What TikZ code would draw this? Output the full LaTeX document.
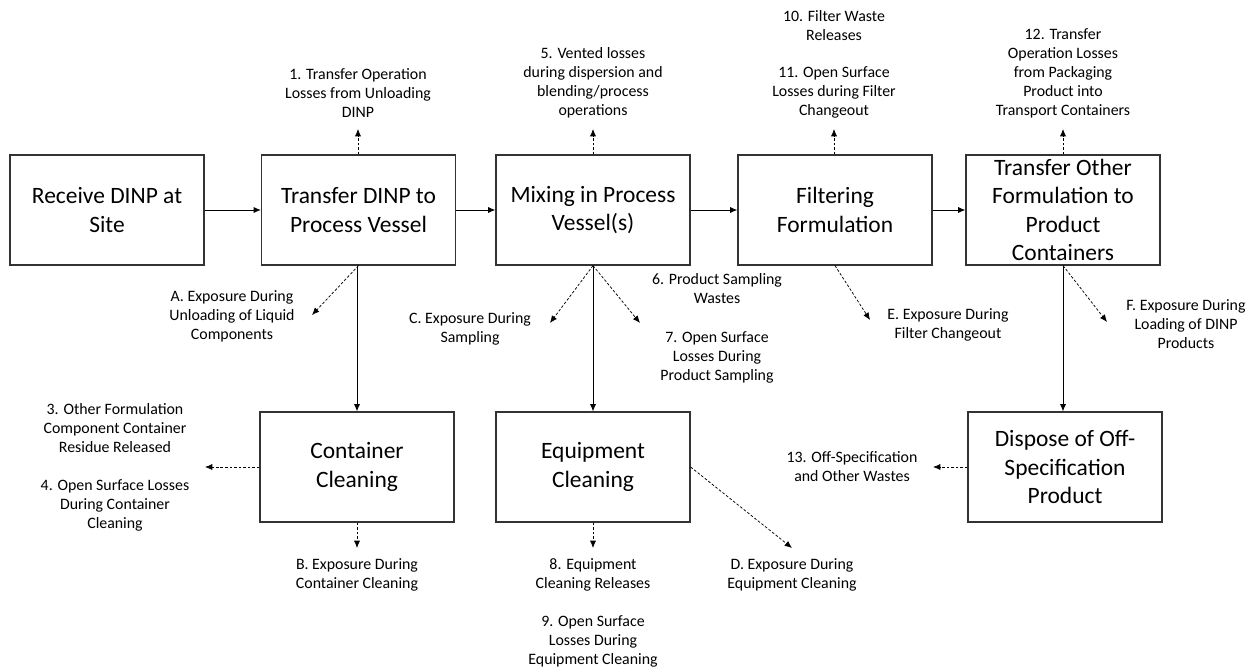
\documentclass[tikz,border=0pt]{standalone}
\usepackage{fontspec}
\setmainfont{Carlito}
\usetikzlibrary{arrows.meta}
\begin{document}
\begin{tikzpicture}[x=0.75pt,y=-0.75pt,
  stage/.style={draw=black!80,line width=0.9pt,minimum width=145.5pt,minimum height=82.5pt,
    inner sep=0pt,align=center,font=\fontsize{17.6}{21.2}\selectfont},
  note/.style={align=center,inner sep=0pt,font=\fontsize{11.9}{14.3}\selectfont},
  flow/.style={line width=0.65pt,-{Latex[length=5.5pt,width=4.6pt]}},
  loss/.style={line width=0.55pt,dash pattern=on 2pt off 1.4pt,-{Latex[length=5.5pt,width=4.6pt]}}]
\useasboundingbox (0,0) rectangle (1255,667);

% process stages
\node[stage] (recv) at (107,210) {Receive DINP at\\Site};
\node[stage] (xfer) at (358.5,210) {Transfer DINP to\\Process Vessel};
\node[stage] (mix)  at (593,210) {Mixing in Process\\Vessel(s)};
\node[stage] (filt) at (835,210) {Filtering\\Formulation};
\node[stage] (pack) at (1063,210) {Transfer Other\\Formulation to\\Product\\Containers};
\node[stage] (ccln) at (357,467) {Container\\Cleaning};
\node[stage] (ecln) at (593,467) {Equipment\\Cleaning};
\node[stage] (disp) at (1065,467) {Dispose of Off-\\Specification\\Product};

% release and exposure labels
\node[note] (n1)  at (358,93)  {1. Transfer Operation\\Losses from Unloading\\DINP};
\node[note] (n5)  at (593,83)  {5. Vented losses\\during dispersion and\\blending/process\\operations};
\node[note] (n10) at (834,25.5) {10. Filter Waste\\Releases};
\node[note] (n11) at (834,92)  {11. Open Surface\\Losses during Filter\\Changeout};
\node[note] (n12) at (1063,73.5) {12. Transfer\\Operation Losses\\from Packaging\\Product into\\Transport Containers};
\node[note] (nA)  at (232,316) {A. Exposure During\\Unloading of Liquid\\Components};
\node[note] (nC)  at (470,329) {C. Exposure During\\Sampling};
\node[note] (n6)  at (717,288.5) {6. Product Sampling\\Wastes};
\node[note] (n7)  at (717,357) {7. Open Surface\\Losses During\\Product Sampling};
\node[note] (nE)  at (948,324.5) {E. Exposure During\\Filter Changeout};
\node[note] (nF)  at (1186,324) {F. Exposure During\\Loading of DINP\\Products};
\node[note] (n3)  at (115,428) {3. Other Formulation\\Component Container\\Residue Released};
\node[note] (n4)  at (115,505) {4. Open Surface Losses\\During Container\\Cleaning};
\node[note] (nB)  at (357,574.5) {B. Exposure During\\Container Cleaning};
\node[note] (n8)  at (593,574.5) {8. Equipment\\Cleaning Releases};
\node[note] (n9)  at (593,641) {9. Open Surface\\Losses During\\Equipment Cleaning};
\node[note] (nD)  at (792,574.5) {D. Exposure During\\Equipment Cleaning};
\node[note] (n13) at (852,467) {13. Off-Specification\\and Other Wastes};

% arrow tips of the release/exposure arrows
\coordinate (t1)  at (358,129);
\coordinate (t5)  at (593,129);
\coordinate (t11) at (834,129);
\coordinate (t12) at (1063,129);
\coordinate (tA)  at (312,315);
\coordinate (tC)  at (550,323);
\coordinate (t7)  at (640,323);
\coordinate (tE)  at (870,320);
\coordinate (tF)  at (1107,322);
\coordinate (t34) at (205,467);
\coordinate (tB)  at (357,548);
\coordinate (t8)  at (593,548);
\coordinate (tD)  at (792,548);
\coordinate (t13) at (933,467);

% main material flow
\draw[flow] (recv.east) -- (xfer.west);
\draw[flow] (xfer.east) -- (mix.west);
\draw[flow] (mix.east) -- (filt.west);
\draw[flow] (filt.east) -- (pack.west);
\draw[flow] (xfer.south -| ccln.north) -- (ccln.north);
\draw[flow] (mix.south) -- (ecln.north);
\draw[flow] (pack.south) -- (pack.south |- disp.north);

% releases and exposures
\draw[loss] (xfer.north -| t1) -- (t1);
\draw[loss] (mix.north) -- (t5);
\draw[loss] (filt.north -| t11) -- (t11);
\draw[loss] (pack.north) -- (t12);
\draw[loss] (xfer.south) -- (tA);
\draw[loss] (mix.south) -- (tC);
\draw[loss] (mix.south) -- (t7);
\draw[loss] (filt.south) -- (tE);
\draw[loss] (pack.south) -- (tF);
\draw[loss] (ccln.west) -- (t34);
\draw[loss] (ccln.south) -- (tB);
\draw[loss] (ecln.south) -- (t8);
\draw[loss] (ecln.east) -- (tD);
\draw[loss] (disp.west) -- (t13);
\end{tikzpicture}
\end{document}
